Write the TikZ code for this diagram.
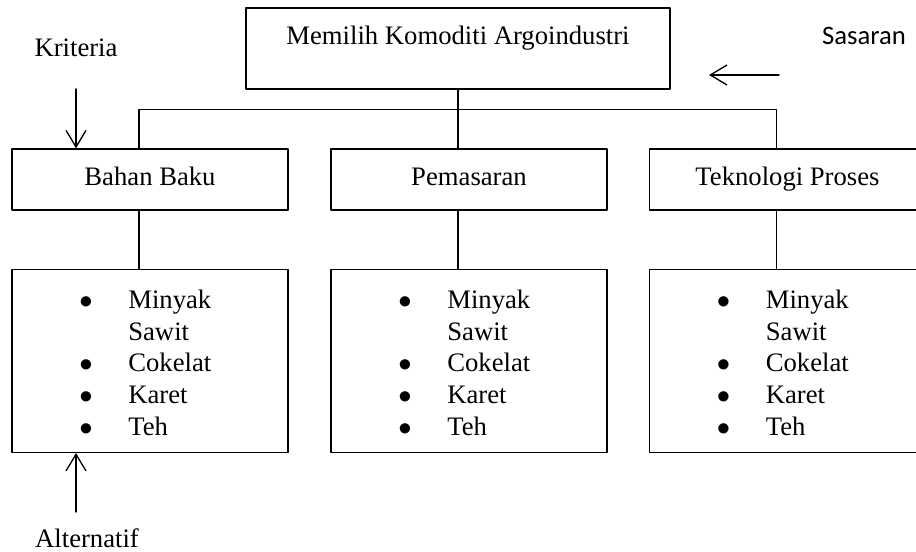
\documentclass[tikz,border=0pt]{standalone}
\usepackage{fontspec}
\setmainfont{Liberation Serif}
\newfontfamily\sasfont{Carlito}
\usetikzlibrary{arrows.meta}
\newcommand{\altlist}{\begin{tabular}{@{\hspace{30.3pt}}p{22.05pt}@{}p{71.85pt}@{}}$\bullet$\rule{0pt}{14pt} & Minyak\\ & Sawit\\ $\bullet$ & Cokelat\\ $\bullet$ & Karet\\ $\bullet$ & Teh\end{tabular}}

\begin{document}
\begin{tikzpicture}[line cap=round,line join=round,line width=0.6pt,>={Straight Barb[length=7.5pt,width=9pt]},x=0.45pt,y=-0.45pt,
		font=\fontsize{12pt}{14.3pt}\selectfont,
		goalbox/.style={draw,minimum width=190.8pt,minimum height=36.45pt,text height=9pt,text depth=12.15pt},
		critbox/.style={draw,minimum width=124.2pt,minimum height=27.45pt,text height=8pt,text depth=3pt},
		altbox/.style={draw,minimum width=124.2pt,minimum height=81.9pt,inner xsep=0pt}]
				\useasboundingbox (0,0) rectangle (916,552);
				\clip (0,0) rectangle (916,552);
				\node[goalbox] (goal) at (458,48.5) {Memilih Komoditi Argoindustri};
				\node[critbox] (c1) at (150,179.5) {Bahan Baku};
				\node[critbox] (c2) at (469,179.5) {Pemasaran};
				\node[critbox] (c3) at (787.5,179.5) {Teknologi Proses};
				\node[altbox] (a1) at (150,361) {\altlist};
				\node[altbox] (a2) at (469,361) {\altlist};
				\node[altbox] (a3) at (787.5,361) {\altlist};
				\node[anchor=base] (kriteria) at (76,56.7) {Kriteria};
				\node[anchor=base,font=\sasfont\fontsize{12pt}{14pt}\selectfont] (sasaran) at (864,45) {Sasaran};
				\node[anchor=base] (alternatif) at (87,547) {Alternatif};
				\draw (goal.south) -- ++(0,20) coordinate (bar);
				\draw ([xshift=-5pt]c1.north) |- (bar) -| ([xshift=-5pt]c3.north);
				\draw (bar) -- (bar |- c2.north);
				\foreach \i in {1,2,3}
					\draw ([xshift=-5pt]c\i.south) -- ([xshift=-5pt]a\i.north);
				\coordinate (kritTail) at (76,89);
				\draw[->] (kritTail) -- (kritTail |- c1.north);
				\coordinate (altTail) at (76,512);
				\draw[->] (altTail) -- (altTail |- a1.south);
				\coordinate (sasTail) at (779,75);
				\coordinate (sasHead) at (709,75);
				\draw[->] (sasTail) -- (sasHead);
			\end{tikzpicture}
\end{document}
